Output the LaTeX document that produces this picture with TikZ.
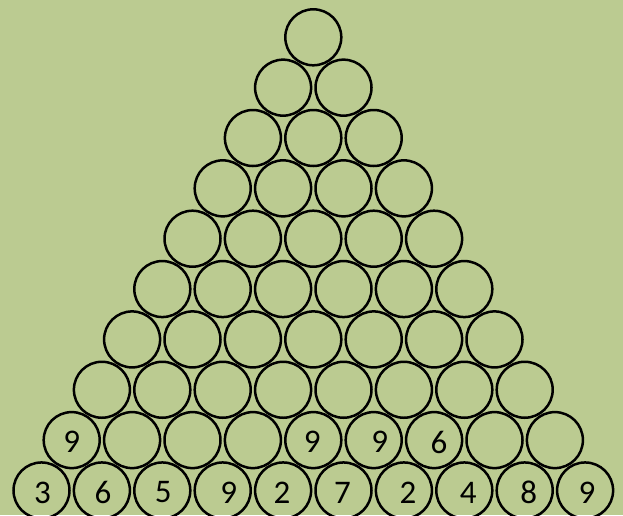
\documentclass[tikz,border=0pt]{standalone}
\usepackage{fontspec}
\setmainfont{Carlito}
\definecolor{boardgreen}{HTML}{BBCB91}
\tikzset{
  ball/.style={
    draw=black, circle, line width=2.5pt, minimum size=56pt,
    inner sep=0pt, outer sep=0pt,
  },
  digit/.style={font=\fontsize{33}{33}\selectfont, inner sep=0pt, yshift=-2pt},
}
\begin{document}
\begin{tikzpicture}[x=1pt, y=-1pt]
\useasboundingbox (0,0) rectangle (623,515);
\fill[boardgreen] (0,0) rectangle (623,515);

% triangle of balls, row r has r balls
\foreach \r in {1,...,10} {
  \foreach \i in {1,...,\r} {
    \node[ball] (b-\r-\i) at ({313.3+(\i-(\r+1)/2)*60.4}, {37.3+(\r-1)*50.35}) {};
  }
}

% given digits, bottom row
\foreach \i/\d/\s in {1/3/1, 2/6/1, 3/5/1, 4/9/6, 5/2/-1, 6/7/-1, 7/2/4, 8/4/4, 9/8/4, 10/9/2}
  \node[digit, xshift=\s pt] at (b-10-\i) {\d};

% given digits, row above
\foreach \i/\d/\s in {1/9/0, 5/9/-1, 6/9/6, 7/6/5}
  \node[digit, xshift=\s pt] at (b-9-\i) {\d};

\end{tikzpicture}
\end{document}
